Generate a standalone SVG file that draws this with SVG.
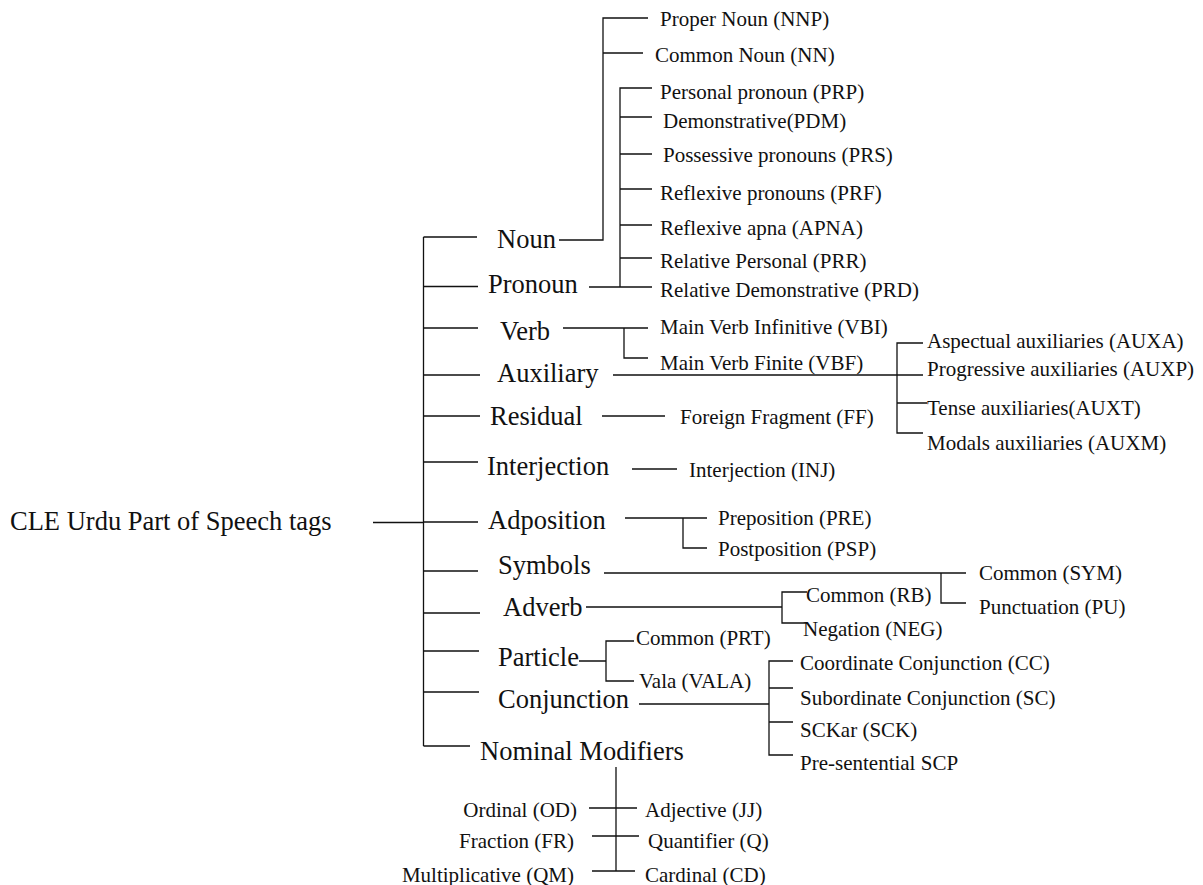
<svg xmlns="http://www.w3.org/2000/svg" width="1203" height="885" viewBox="0 0 1203 885">
<style>
text{font-family:"Liberation Serif","Times New Roman",serif;fill:#111}
.big{font-size:26.5px}
.small{font-size:21px}
.end{text-anchor:end}
#connectors path{fill:none;stroke:#111;stroke-width:1.3}
</style>
<rect width="1203" height="885" fill="#fff"/>
<g id="connectors">
<path d="M373 522.5H423.5M423.5 237V746"/>
<path d="M423.5 237H477M423.5 286.5H478M423.5 328H478M423.5 375H480M423.5 416H480M423.5 462H478M423.5 522H478M423.5 571H478M423.5 613H480M423.5 651H479M423.5 692H479M423.5 746H470"/>
<path d="M559 240H603V18H648M603 53H643"/>
<path d="M589 287H652M620 287V88H652M620 117H652M620 154H652M620 189H652M620 225H652M620 258H652"/>
<path d="M563 328H648M624 328V358H648"/>
<path d="M613 375H923M923 343H897V433H923M897 403H927"/>
<path d="M602 416H665"/>
<path d="M632 469H677"/>
<path d="M625 518H707M683 518V548H707"/>
<path d="M604 573H966M941 573V603H966"/>
<path d="M586 607H782M807 592H782V623H807"/>
<path d="M579 661H606M634 641H606V681H634"/>
<path d="M639 704H769M793 661H769V755H793M769 688H793M769 722H793"/>
<path d="M616 767V871M589 808H637M592 836H639M592 871H635"/>
</g>
<g id="root"><text class="big" x="10" y="530">CLE Urdu Part of Speech tags</text></g>
<g id="noun"><text class="big" x="497" y="248">Noun</text></g>
<g id="pronoun"><text class="big" x="488" y="293">Pronoun</text></g>
<g id="verb"><text class="big" x="500" y="340">Verb</text></g>
<g id="auxiliary"><text class="big" x="497" y="382">Auxiliary</text></g>
<g id="residual"><text class="big" x="490" y="425">Residual</text></g>
<g id="interjection"><text class="big" x="487" y="475">Interjection</text></g>
<g id="adposition"><text class="big" x="488" y="529">Adposition</text></g>
<g id="symbols"><text class="big" x="498" y="574">Symbols</text></g>
<g id="adverb"><text class="big" x="503" y="616">Adverb</text></g>
<g id="particle"><text class="big" x="498" y="666">Particle</text></g>
<g id="conjunction"><text class="big" x="498" y="708">Conjunction</text></g>
<g id="nominal"><text class="big" x="480" y="760">Nominal Modifiers</text></g>
<g id="nnp"><text class="small" x="660" y="26">Proper Noun (NNP)</text></g>
<g id="nn"><text class="small" x="655" y="62">Common Noun (NN)</text></g>
<g id="prp"><text class="small" x="660" y="99">Personal pronoun (PRP)</text></g>
<g id="pdm"><text class="small" x="663" y="128">Demonstrative(PDM)</text></g>
<g id="prs"><text class="small" x="663" y="162">Possessive pronouns (PRS)</text></g>
<g id="prf"><text class="small" x="660" y="200">Reflexive pronouns (PRF)</text></g>
<g id="apna"><text class="small" x="660" y="235">Reflexive apna (APNA)</text></g>
<g id="prr"><text class="small" x="660" y="268">Relative Personal (PRR)</text></g>
<g id="prd"><text class="small" x="660" y="297">Relative Demonstrative (PRD)</text></g>
<g id="vbi"><text class="small" x="660" y="334">Main Verb Infinitive (VBI)</text></g>
<g id="vbf"><text class="small" x="660" y="370">Main Verb Finite (VBF)</text></g>
<g id="auxa"><text class="small" x="927" y="348">Aspectual auxiliaries (AUXA)</text></g>
<g id="auxp"><text class="small" x="927" y="376">Progressive auxiliaries (AUXP)</text></g>
<g id="auxt"><text class="small" x="927" y="415">Tense auxiliaries(AUXT)</text></g>
<g id="auxm"><text class="small" x="927" y="450">Modals auxiliaries (AUXM)</text></g>
<g id="ff"><text class="small" x="680" y="424">Foreign Fragment (FF)</text></g>
<g id="inj"><text class="small" x="689" y="477">Interjection (INJ)</text></g>
<g id="pre"><text class="small" x="718" y="525">Preposition (PRE)</text></g>
<g id="psp"><text class="small" x="718" y="556">Postposition (PSP)</text></g>
<g id="sym"><text class="small" x="979" y="580">Common (SYM)</text></g>
<g id="pu"><text class="small" x="979" y="614">Punctuation (PU)</text></g>
<g id="rb"><text class="small" x="806" y="602">Common (RB)</text></g>
<g id="neg"><text class="small" x="803" y="636">Negation (NEG)</text></g>
<g id="prt"><text class="small" x="636" y="645">Common (PRT)</text></g>
<g id="vala"><text class="small" x="639" y="688">Vala (VALA)</text></g>
<g id="cc"><text class="small" x="800" y="670">Coordinate Conjunction (CC)</text></g>
<g id="sc"><text class="small" x="800" y="705">Subordinate Conjunction (SC)</text></g>
<g id="sck"><text class="small" x="800" y="737">SCKar (SCK)</text></g>
<g id="scp"><text class="small" x="800" y="770">Pre-sentential SCP</text></g>
<g id="od"><text class="small end" x="577" y="817">Ordinal (OD)</text></g>
<g id="fr"><text class="small end" x="574" y="848">Fraction (FR)</text></g>
<g id="qm"><text class="small end" x="574" y="882">Multiplicative (QM)</text></g>
<g id="jj"><text class="small" x="645" y="817">Adjective (JJ)</text></g>
<g id="q"><text class="small" x="648" y="848">Quantifier (Q)</text></g>
<g id="cd"><text class="small" x="645" y="882">Cardinal (CD)</text></g>
</svg>
